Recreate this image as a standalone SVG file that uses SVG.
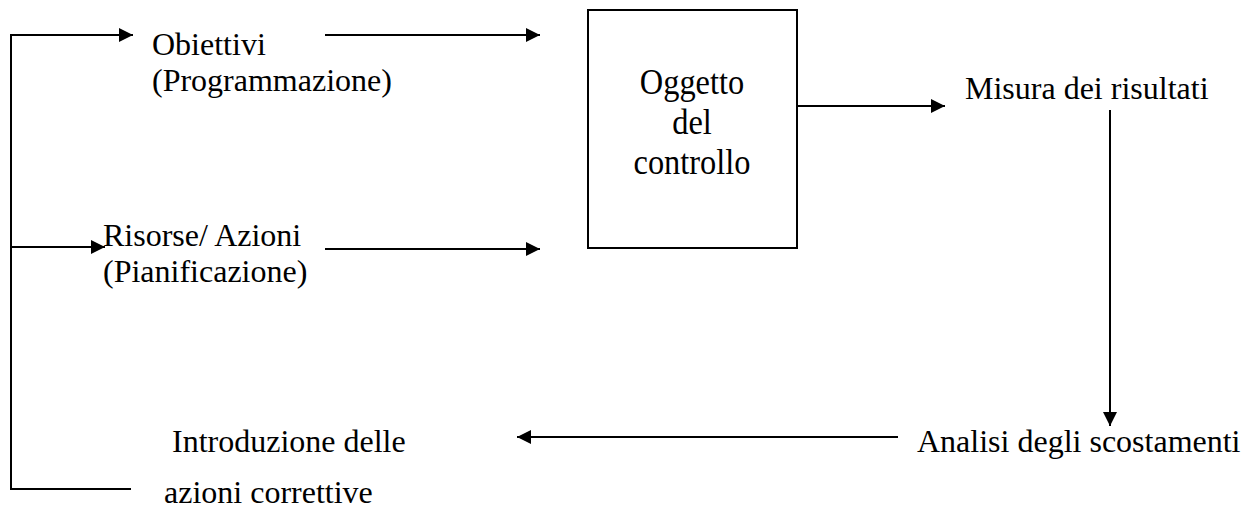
<svg xmlns="http://www.w3.org/2000/svg" width="1258" height="523" viewBox="0 0 1258 523">
<style>
text{font-family:"Liberation Serif","Times New Roman",serif;font-size:32px;fill:#000}
.big{font-size:36px}
.ln{stroke:#000;stroke-width:2;fill:none}
</style>
<defs>
<marker id="ah" viewBox="0 0 10 10" refX="10" refY="5" markerWidth="15" markerHeight="14" markerUnits="userSpaceOnUse" orient="auto"><path d="M0,0L10,5L0,10z" fill="#000"/></marker>
</defs>
<rect width="1258" height="523" fill="#fff"/>
<g id="connectors">
<path class="ln" d="M131,489H11V35H133" marker-end="url(#ah)"/>
<path class="ln" d="M11,247H105" marker-end="url(#ah)"/>
<path class="ln" d="M325,35H540" marker-end="url(#ah)"/>
<path class="ln" d="M325,249H540" marker-end="url(#ah)"/>
<path class="ln" d="M797,106H945" marker-end="url(#ah)"/>
<path class="ln" d="M1110,110V426" marker-end="url(#ah)"/>
<path class="ln" d="M898,437H517" marker-end="url(#ah)"/>
</g>
<g id="obiettivi"><text x="152" y="55">Obiettivi</text><text x="152" y="91">(Programmazione)</text></g>
<g id="risorse"><text x="103" y="246">Risorse/ Azioni</text><text x="103" y="282">(Pianificazione)</text></g>
<g id="oggetto"><rect class="ln" x="588" y="10" width="209" height="238"/><text class="big" transform="translate(692,94) scale(0.9,1)" text-anchor="middle">Oggetto</text><text class="big" transform="translate(692,134) scale(0.9,1)" text-anchor="middle">del</text><text class="big" transform="translate(692,174) scale(0.9,1)" text-anchor="middle">controllo</text></g>
<g id="misura"><text x="965" y="99">Misura dei risultati</text></g>
<g id="analisi"><text x="917" y="452">Analisi degli scostamenti</text></g>
<g id="introduzione"><text x="172" y="452">Introduzione delle</text><text x="164" y="503">azioni correttive</text></g>
</svg>
